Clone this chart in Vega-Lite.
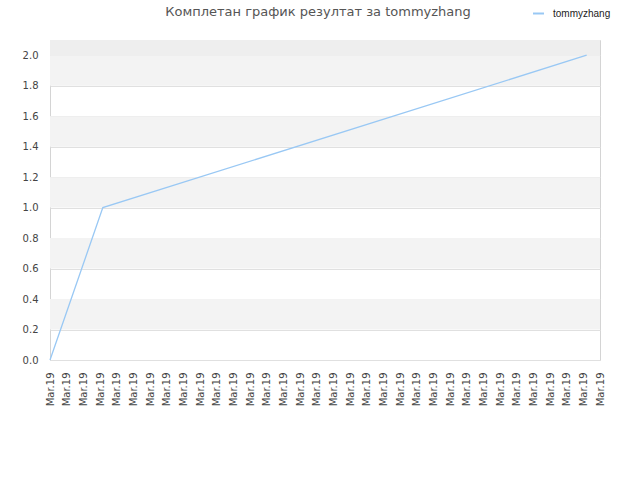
{
  "$schema": "https://vega.github.io/schema/vega-lite/v6.json",
  "description": "Комплетан график резултат за tommyzhang",
  "autosize": "none",
  "width": 550,
  "height": 320,
  "padding": {"left": 50, "top": 40, "right": 40, "bottom": 120},
  "background": "white",
  "title": {
    "text": "Комплетан график резултат за tommyzhang",
    "anchor": "middle",
    "dx": -7,
    "offset": -12,
    "font": "DejaVu Sans",
    "fontSize": 13,
    "fontWeight": "normal",
    "color": "#555555"
  },
  "datasets": {
    "bands": [
      {"from": 0.2, "to": 0.4},
      {"from": 0.6, "to": 0.8},
      {"from": 1.0, "to": 1.2},
      {"from": 1.4, "to": 1.6},
      {"from": 1.8, "to": 2.0}
    ],
    "topband": [
      {"from": 2.0, "to": 2.1}
    ],
    "scores": [
      {"game": 0, "score": 0, "player": "tommyzhang"},
      {"game": 3.17, "score": 1.0, "player": "tommyzhang"},
      {"game": 32.2, "score": 2.0, "player": "tommyzhang"}
    ]
  },
  "config": {
    "view": {"stroke": "#d4d4d4", "strokeWidth": 1},
    "font": "DejaVu Sans",
    "axisY": {
      "title": null,
      "values": [0, 0.2, 0.4, 0.6, 0.8, 1.0, 1.2, 1.4, 1.6, 1.8, 2.0],
      "format": ".1f",
      "labelFontSize": 10,
      "labelColor": "#444444",
      "labelPadding": 12,
      "ticks": false,
      "domain": false,
      "grid": true,
      "gridColor": "#e0e0e0",
      "gridWidth": 1
    }
  },
  "layer": [
    {
      "data": {"name": "bands"},
      "mark": {"type": "rect", "color": "#f3f3f3"},
      "encoding": {
        "y": {"field": "from", "type": "quantitative", "title": null, "scale": {"domain": [0, 2.1], "nice": false, "zero": false}},
        "y2": {"field": "to"}
      }
    },
    {
      "data": {"name": "topband"},
      "mark": {"type": "rect", "color": "#eeeeee"},
      "encoding": {
        "y": {"field": "from", "type": "quantitative", "title": null, "scale": {"domain": [0, 2.1], "nice": false, "zero": false}},
        "y2": {"field": "to"}
      }
    },
    {
      "data": {"name": "scores"},
      "mark": {"type": "line", "strokeWidth": 1.3, "interpolate": "linear"},
      "encoding": {
        "x": {
          "field": "game",
          "type": "quantitative",
          "scale": {"domain": [0, 33], "nice": false, "zero": false},
          "axis": {
            "title": null,
            "values": [0,1,2,3,4,5,6,7,8,9,10,11,12,13,14,15,16,17,18,19,20,21,22,23,24,25,26,27,28,29,30,31,32,33],
            "labelExpr": "'Mar.19'",
            "labelAngle": -90,
            "labelAlign": "right",
            "labelBaseline": "middle",
            "labelFontSize": 10,
            "labelColor": "#444444",
            "labelPadding": 12,
            "labelOverlap": false,
            "labelFlush": false,
            "ticks": false,
            "grid": false,
            "domain": false
          }
        },
        "y": {
          "field": "score",
          "type": "quantitative",
          "title": null,
          "scale": {"domain": [0, 2.1], "nice": false, "zero": false}
        },
        "color": {
          "field": "player",
          "type": "nominal",
          "scale": {"range": ["#99c8f4"]},
          "legend": {
            "title": null,
            "orient": "none",
            "legendX": 482,
            "legendY": -33,
            "symbolType": "stroke",
            "symbolSize": 120,
            "symbolStrokeWidth": 2,
            "labelOffset": 8,
            "labelFont": "Liberation Sans",
            "labelFontSize": 10,
            "labelColor": "#222222"
          }
        }
      }
    }
  ]
}
